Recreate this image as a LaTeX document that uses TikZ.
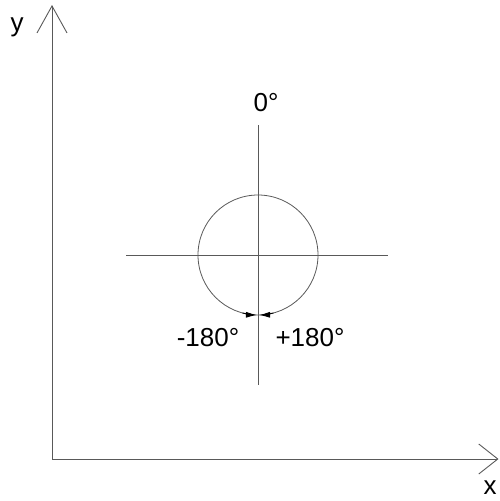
\documentclass[tikz,border=0pt]{standalone}
\usepackage{fontspec}
\setmainfont{Liberation Sans}
\usetikzlibrary{arrows.meta}
\definecolor{linegray}{gray}{0.35}
\begin{document}
\begin{tikzpicture}[x=1pt,y=-1pt,
  axis/.style={draw=linegray,line width=0.9pt,-{Straight Barb[length=#1,width=30pt,line width=0.9pt]}},
  thin/.style={draw=linegray,line width=0.8pt},
  lbl/.style={font=\fontsize{26}{30}\selectfont,text=black,inner sep=0pt},
  tip/.style={draw=black,line width=0.9pt,-{Latex[length=11pt,width=6pt]}}]
\useasboundingbox (0,0) rectangle (499,501);
% axes
\coordinate (O) at (52,459);
\coordinate (ytop) at (52,5);
\coordinate (xend) at (498.5,459);
\draw[axis=27pt] (O) -- (ytop);
\draw[axis=19pt] (O) -- (xend);
\node[lbl] (ylab) at (17,27) {y};
\node[lbl] (xlab) at (490,488) {x};
% cross and circle
\coordinate (c) at (258,255);
\coordinate (hl) at (126,255);
\coordinate (hr) at (388,255);
\coordinate (vt) at (258,125);
\coordinate (vb) at (258,385);
\draw[thin] (hl) -- (hr);
\draw[thin] (vt) -- (vb);
\draw[thin] (c) circle[radius=60];
\draw[tip] (c) ++(105:60) arc[start angle=105,end angle=91,radius=60];
\draw[tip] (c) ++(75:60) arc[start angle=75,end angle=89,radius=60];
\node[lbl] (zero) at (266,103) {0°};
\node[lbl] (minus) at (208,338) {-180°};
\node[lbl] (plus) at (310,338) {+180°};
\end{tikzpicture}
\end{document}
